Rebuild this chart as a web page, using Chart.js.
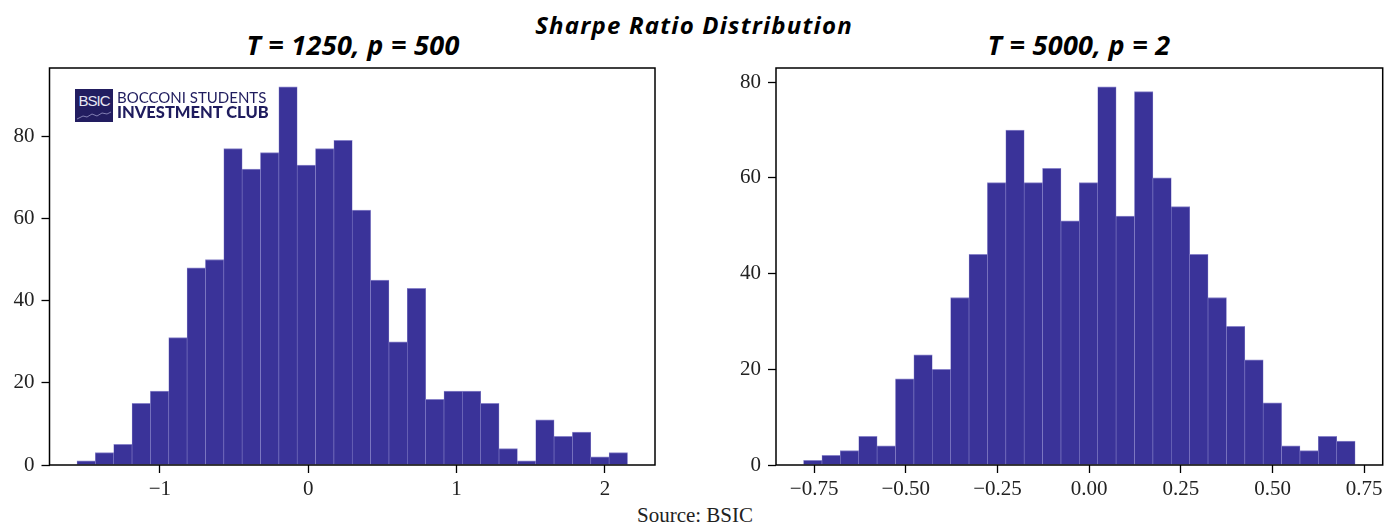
<!DOCTYPE html>
<html lang="en">
<head>
<meta charset="UTF-8">
<title>Sharpe Ratio Distribution</title>
<script src="https://cdn.jsdelivr.net/npm/chart.js"></script>
<style>
    * {
        padding: 0;
        margin: 0;
    }

    body {
        background-color: #ffffff;
        width: 1385px;
        height: 522px;
        position: relative;
        overflow: hidden;
    }

    .titulo {
        position: absolute;
        font-family: "Open Sans", Lato, sans-serif;
        font-weight: 700;
        font-style: italic;
        color: #000;
        white-space: nowrap;
        line-height: 1;
        transform: translateX(-50%);
    }

    .principal { left: 694px; top: 13px; font-size: 24px; letter-spacing: 1.2px; }
    .sub { top: 31px; font-size: 27px; letter-spacing: 0.3px; }

    .caixa {
        position: absolute;
    }

    .fonte {
        position: absolute;
        left: 695px;
        top: 505px;
        transform: translateX(-50%);
        font-family: "Liberation Serif", serif;
        font-size: 21px;
        line-height: 1;
        color: #222;
    }

    .logo-box {
        position: absolute;
        left: 75px;
        top: 89px;
        width: 38px;
        height: 33px;
        background: #221d60;
        color: #e8e8f4;
        font-family: "Liberation Sans Narrow", "Liberation Sans", sans-serif;
        font-size: 15px;
        letter-spacing: -1px;
        line-height: 24px;
        text-align: center;
    }

    .logo-box svg {
        position: absolute;
        left: 2px;
        top: 22px;
    }

    .logo-txt {
        position: absolute;
        left: 117px;
        font-family: Lato, sans-serif;
        color: #1f1c5e;
        white-space: nowrap;
    }
</style>
</head>
<body>
    <div class="titulo principal">Sharpe Ratio Distribution</div>
    <div class="titulo sub" style="left:353px">T = 1250, p = 500</div>
    <div class="titulo sub" style="left:1079px">T = 5000, p = 2</div>

    <div class="caixa" style="left:0px; top:60px; width:670px; height:440px;">
        <canvas id="chartEsq"></canvas>
    </div>
    <div class="caixa" style="left:700px; top:60px; width:685px; height:440px;">
        <canvas id="chartDir"></canvas>
    </div>

    <div class="logo-box">BSIC
        <svg width="34" height="9"><polyline points="0,8 6,5 10,6 15,3 20,5 25,2 30,3 34,1" fill="none" stroke="#9a98c8" stroke-width="0.8"/></svg>
    </div>
    <div class="logo-txt" style="top:90px; font-size:15px; line-height:15px;">BOCCONI STUDENTS</div>
    <div class="logo-txt" style="top:104px; font-size:16.5px; line-height:17px; font-weight:900;">INVESTMENT CLUB</div>

    <div class="fonte">Source: BSIC</div>

<script>
// T = 1250, p = 500
const leftBinStart = -1.5587;
const leftBinWidth = 0.12369;
const leftCounts = [1, 3, 5, 15, 18, 31, 48, 50, 77, 72, 76, 92, 73, 77, 79,
                    62, 45, 30, 43, 16, 18, 18, 15, 4, 1, 11, 7, 8, 2, 3];
const leftXTicks = [-1, 0, 1, 2];
const leftXLabels = ['\u22121', '0', '1', '2'];

// T = 5000, p = 2
const rightBinStart = -0.7787;
const rightBinWidth = 0.05013;
const rightCounts = [1, 2, 3, 6, 4, 18, 23, 20, 35, 44, 59, 70, 59, 62, 51,
                     59, 79, 52, 78, 60, 54, 44, 35, 29, 22, 13, 4, 3, 6, 5];
const rightXTicks = [-0.75, -0.5, -0.25, 0, 0.25, 0.5, 0.75];
const rightXLabels = ['\u22120.75', '\u22120.50', '\u22120.25', '0.00', '0.25', '0.50', '0.75'];

const yTicks = [0, 20, 40, 60, 80];
const yLabels = ['0', '20', '40', '60', '80'];

const corBarra = '#3a3399';
const corBorda = '#8883c9';

// moldura em volta da area do grafico
const moldura = {
    id: 'moldura',
    afterDraw(chart) {
        const a = chart.chartArea;
        const ctx = chart.ctx;
        ctx.save();
        ctx.strokeStyle = '#000';
        ctx.lineWidth = 1.5;
        ctx.strokeRect(a.left, a.top, a.right - a.left, a.bottom - a.top);
        ctx.restore();
    }
};

function histograma(id, binStart, binWidth, counts, xTicks, xLabels, yWidth, padRight) {
    const pontos = counts.map((c, i) => ({ x: binStart + (i + 0.5) * binWidth, y: c }));
    const xMin = binStart, xMax = binStart + counts.length * binWidth;
    const margemX = (xMax - xMin) * 0.05;
    const yMax = Math.max(...counts) * 1.05;
    const fonteTick = { family: '"Liberation Serif", serif', size: 21 };
    const gradeTick = { offset: false, drawOnChartArea: false, drawTicks: true, tickLength: 8, tickColor: '#000', tickWidth: 1.3 };

    return new Chart(document.getElementById(id), {
        type: 'bar',
        data: {
            datasets: [{
                data: pontos,
                backgroundColor: corBarra,
                borderColor: corBorda,
                borderWidth: { top: 1, left: 0.6, right: 0.6, bottom: 0 },
                barPercentage: 1,
                categoryPercentage: 1
            }]
        },
        options: {
            responsive: true,
            maintainAspectRatio: false,
            animation: false,
            layout: { padding: { top: 8, right: padRight, left: 0, bottom: 0 } },
            plugins: { legend: { display: false }, tooltip: { enabled: false } },
            scales: {
                x: {
                    type: 'linear',
                    offset: false,
                    min: xMin - margemX,
                    max: xMax + margemX,
                    afterBuildTicks: s => { s.ticks = xTicks.map(v => ({ value: v })); },
                    afterFit: s => { s.height = 35; s.paddingLeft = 0; s.paddingRight = 0; },
                    grid: gradeTick,
                    border: { display: false },
                    ticks: {
                        autoSkip: false,
                        maxRotation: 0,
                        padding: 4,
                        color: '#222',
                        font: fonteTick,
                        callback: (v) => xLabels[xTicks.indexOf(v)]
                    }
                },
                y: {
                    min: 0,
                    max: yMax,
                    afterBuildTicks: s => { s.ticks = yTicks.map(v => ({ value: v })); },
                    afterFit: s => { s.width = yWidth; s.paddingTop = 0; s.paddingBottom = 0; },
                    grid: gradeTick,
                    border: { display: false },
                    ticks: {
                        padding: 7,
                        color: '#222',
                        font: fonteTick,
                        callback: (v) => yLabels[yTicks.indexOf(v)]
                    }
                }
            }
        },
        plugins: [moldura]
    });
}

histograma('chartEsq', leftBinStart, leftBinWidth, leftCounts, leftXTicks, leftXLabels, 49.5, 15);
histograma('chartDir', rightBinStart, rightBinWidth, rightCounts, rightXTicks, rightXLabels, 76, 2.3);
</script>
</body>
</html>
